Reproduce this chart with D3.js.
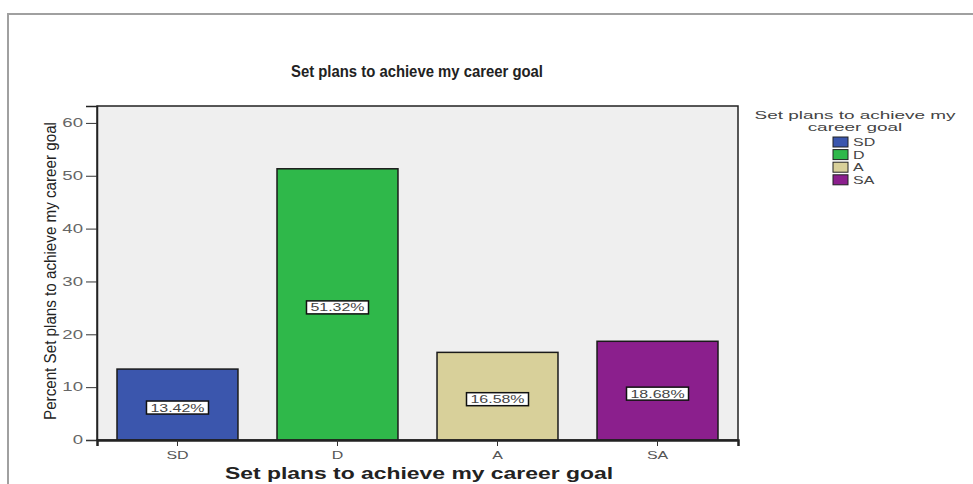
<!DOCTYPE html>
<html>
<head>
<meta charset="utf-8">
<script src="https://cdn.jsdelivr.net/npm/d3@7"></script>
<style>
  html, body { margin: 0; padding: 0; background: #fff; }
  svg { display: block; font-family: Arial, "Liberation Sans", sans-serif; }
</style>
</head>
<body>
<svg id="chart" width="973" height="484"></svg>
<script>
// Responses to "Set plans to achieve my career goal"
const categories = ["SD", "D", "A", "SA"];
const percents = [13.42, 51.32, 16.58, 18.68];
const colors = ["#3b56ad", "#2fb84a", "#d8d09a", "#8b1f8d"];
const yTicks = [0, 10, 20, 30, 40, 50, 60];
const chartTitle = "Set plans to achieve my career goal";
const yTitle = "Percent Set plans to achieve my career goal";
const legendTitle = ["Set plans to achieve my", "career goal"];

const svg = d3.select("#chart");
const plot = { left: 97, right: 738, top: 106, bottom: 440 };

// stretch text horizontally by a factor, or to a fixed length
function widen(sel, factor) {
  sel.each(function () {
    const w = this.getComputedTextLength() * factor;
    d3.select(this).attr("textLength", w).attr("lengthAdjust", "spacingAndGlyphs");
  });
}
function fitTo(sel, len) {
  sel.attr("textLength", len).attr("lengthAdjust", "spacingAndGlyphs");
}

// outer frame
svg.append("path")
  .attr("d", "M8,484 V14 H973")
  .attr("fill", "none").attr("stroke", "#a0a0a0").attr("stroke-width", 2);

const x = d3.scaleBand()
  .domain(categories)
  .range([plot.left, plot.right])
  .paddingInner(0.244)
  .paddingOuter(0.125);

const y = d3.scaleLinear()
  .domain([0, 63.2])
  .range([plot.bottom, plot.top]);

// plot background
svg.append("rect")
  .attr("x", plot.left).attr("y", plot.top)
  .attr("width", plot.right - plot.left).attr("height", plot.bottom - plot.top)
  .attr("fill", "#efefef").attr("stroke", "#222").attr("stroke-width", 1.5);

// bars
svg.append("g").selectAll("rect")
  .data(categories)
  .join("rect")
  .attr("x", d => x(d))
  .attr("y", (d, i) => y(percents[i]))
  .attr("width", x.bandwidth())
  .attr("height", (d, i) => y(0) - y(percents[i]))
  .attr("fill", (d, i) => colors[i])
  .attr("stroke", "#1a1a1a").attr("stroke-width", 1.5);

// value labels
const lab = svg.append("g").selectAll("g")
  .data(categories)
  .join("g")
  .attr("transform", (d, i) => `translate(${x(d) + x.bandwidth() / 2},${(y(0) + y(percents[i])) / 2 + 3})`);
lab.append("rect")
  .attr("x", -31).attr("y", -6.5).attr("width", 62).attr("height", 13)
  .attr("fill", "#fff").attr("stroke", "#111").attr("stroke-width", 1.5);
lab.append("text")
  .attr("text-anchor", "middle").attr("dy", "0.36em")
  .attr("font-size", 11).attr("fill", "#444")
  .text((d, i) => percents[i].toFixed(2) + "%")
  .call(widen, 1.45);

// y axis
const yAxis = svg.append("g")
  .attr("transform", `translate(${plot.left},0)`)
  .call(d3.axisLeft(y).tickValues(yTicks).tickSize(11).tickPadding(3));
yAxis.select(".domain").attr("stroke", "#222").attr("stroke-width", 1.5);
yAxis.selectAll(".tick line").attr("stroke", "#333");
yAxis.selectAll("text").attr("font-size", 12).attr("fill", "#666")
  .attr("font-family", "Arial, 'Liberation Sans', sans-serif")
  .call(widen, 1.55);

// x axis
const xAxis = svg.append("g")
  .attr("transform", `translate(0,${plot.bottom})`)
  .call(d3.axisBottom(x).tickSize(6).tickPadding(5));
xAxis.select(".domain").attr("stroke", "#222").attr("stroke-width", 2.5);
xAxis.selectAll(".tick line").attr("stroke", "#333");
xAxis.selectAll("text").attr("font-size", 11).attr("fill", "#555")
  .attr("font-family", "Arial, 'Liberation Sans', sans-serif")
  .call(widen, 1.45);

// titles
svg.append("text")
  .attr("x", 417).attr("y", 77)
  .attr("text-anchor", "middle").attr("font-weight", "bold").attr("font-size", 16)
  .attr("fill", "#222").text(chartTitle)
  .call(fitTo, 252);

svg.append("text")
  .attr("x", 419).attr("y", 479)
  .attr("text-anchor", "middle").attr("font-weight", "bold").attr("font-size", 16)
  .attr("fill", "#222").text(chartTitle)
  .call(fitTo, 388);

svg.append("text")
  .attr("transform", `translate(56,271) rotate(-90)`)
  .attr("text-anchor", "middle").attr("font-size", 16)
  .attr("fill", "#222").text(yTitle)
  .call(fitTo, 298);

// legend
const legend = svg.append("g");
legend.selectAll("text.title")
  .data(legendTitle)
  .join("text")
  .attr("class", "title")
  .attr("x", 855).attr("y", (d, i) => 119 + i * 12)
  .attr("text-anchor", "middle").attr("font-size", 11).attr("fill", "#444")
  .text(d => d)
  .call(widen, 1.72);
const items = legend.selectAll("g.item")
  .data(categories)
  .join("g")
  .attr("class", "item")
  .attr("transform", (d, i) => `translate(833,${137 + i * 12.6})`);
items.append("rect")
  .attr("width", 15).attr("height", 10)
  .attr("fill", (d, i) => colors[i]).attr("stroke", "#222").attr("stroke-width", 1);
items.append("text")
  .attr("x", 20).attr("y", 9)
  .attr("font-size", 11).attr("fill", "#444")
  .text(d => d)
  .call(widen, 1.45);
</script>
</body>
</html>
